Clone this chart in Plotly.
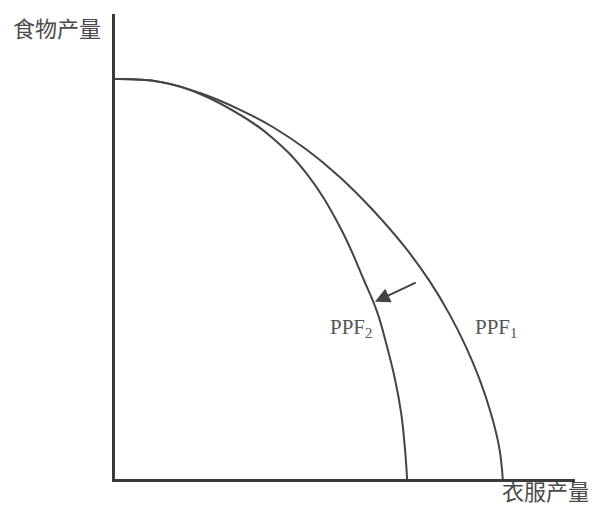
import plotly.graph_objects as go

# PPF1: outer curve (clothing output vs food output)
ppf1_x = [0, 9.8, 18.5, 27.2, 34.3, 41.7, 48.9, 56.1, 63.0, 68.5, 72.8, 76.3, 79.3, 81.7, 83.5, 84.3]
ppf1_y = [86.0, 85.4, 83.0, 79.4, 75.7, 70.8, 64.9, 57.8, 49.9, 42.4, 35.3, 28.4, 21.3, 14.2, 6.9, 0]

# PPF2: inner curve
ppf2_x = [0, 9.8, 18.5, 27.2, 34.3, 41.7, 48.9, 54.1, 57.0, 59.1, 60.9, 62.2, 63.0, 63.5]
ppf2_y = [86.0, 85.4, 82.8, 78.3, 73.3, 65.6, 54.2, 42.8, 35.9, 28.6, 21.3, 14.2, 6.9, 0]

line_color = "#444444"

fig = go.Figure()
for xs, ys in [(ppf1_x, ppf1_y), (ppf2_x, ppf2_y)]:
    fig.add_trace(go.Scatter(
        x=xs, y=ys, mode="lines",
        line=dict(color=line_color, width=2, shape="spline", smoothing=1.2),
        hoverinfo="skip", showlegend=False))

# shift arrow from PPF1 toward PPF2
fig.add_annotation(
    x=56.5, y=38.1, ax=65.7, ay=42.4, xref="x", yref="y", axref="x", ayref="y",
    text="", showarrow=True, arrowhead=2, arrowsize=1.5, arrowwidth=2,
    arrowcolor=line_color)

label_font = dict(family="Liberation Serif", size=21, color="#555555")
fig.add_annotation(x=46.3, y=32.5, text="PPF<sub>2</sub>", showarrow=False,
                   xanchor="left", yanchor="middle", font=label_font)
fig.add_annotation(x=77.8, y=32.5, text="PPF<sub>1</sub>", showarrow=False,
                   xanchor="left", yanchor="middle", font=label_font)

cjk_font = dict(family="Noto Sans CJK SC", size=22, color="#4a4a4a")
fig.add_annotation(x=-0.026, y=0.972, xref="paper", yref="paper", text="食物产量",
                   showarrow=False, xanchor="right", yanchor="middle", font=cjk_font)
fig.add_annotation(x=0.937, y=-0.062, xref="paper", yref="paper", text="衣服产量",
                   showarrow=False, xanchor="center", yanchor="bottom", font=cjk_font)

axis_style = dict(showgrid=False, zeroline=False, showticklabels=False, ticks="",
                  showline=True, linecolor="#3a3a3a", linewidth=3, range=[0, 100],
                  fixedrange=True)

# the page body adds an 8px margin, so the figure is 8px smaller than the window
fig.update_layout(
    width=588, height=502,
    margin=dict(l=107, r=21, t=6, b=31),
    paper_bgcolor="white", plot_bgcolor="white",
    xaxis=axis_style, yaxis=axis_style)

fig.write_html("out.html")
